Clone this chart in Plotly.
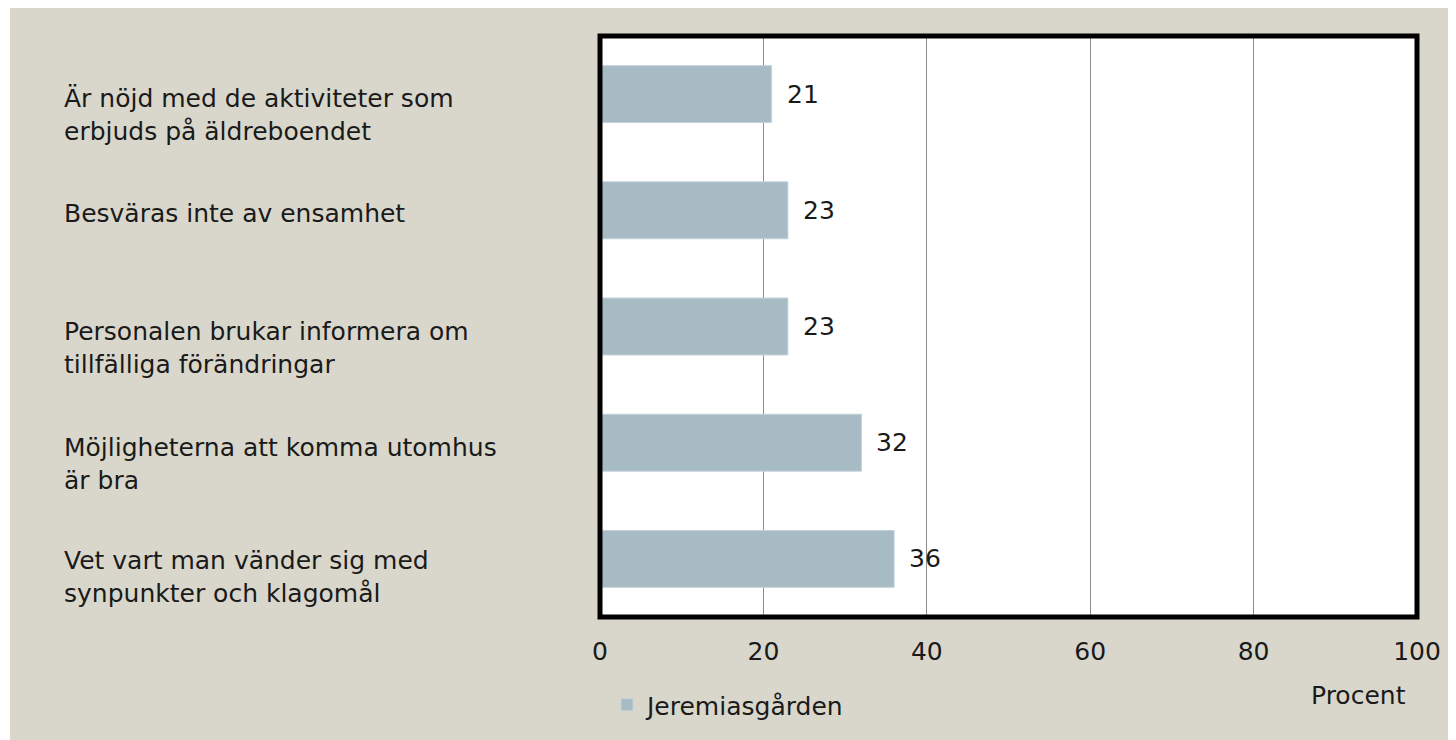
import plotly.graph_objects as go

categories = [
    "Är nöjd med de aktiviteter som<br>erbjuds på äldreboendet",
    "Besväras inte av ensamhet",
    "Personalen brukar informera om<br>tillfälliga förändringar",
    "Möjligheterna att komma utomhus<br>är bra",
    "Vet vart man vänder sig med<br>synpunkter och klagomål",
]
values = [21, 23, 23, 32, 36]
series_name = "Jeremiasgården"
x_ticks = [0, 20, 40, 60, 80, 100]
x_title = "Procent"

# figure is offset by the 8px page margin
W, H = 1456, 740
L, R, T, B = 592, 47, 28, 131
PW, PH = W - L - R, H - T - B

FONT = "DejaVu Sans"
FS = 25
TXT = "#1a1a1a"
BEIGE = "#D9D7CB"
BAR = "#A7BBC5"

fig = go.Figure()
fig.add_trace(go.Bar(
    y=categories, x=values, orientation="h", name=series_name,
    marker=dict(color=BAR, line=dict(color="#C4D2D9", width=1)),
    width=0.49, showlegend=True,
))

# value labels
for c, v in zip(categories, values):
    fig.add_annotation(x=v, y=c, text=str(v), showarrow=False, xanchor="left",
                       xshift=13, font=dict(family=FONT, size=FS, color=TXT))

# category labels (left aligned)
yshifts = [-21, -3, -21, -21, -18]
for c, ys in zip(categories, yshifts):
    fig.add_annotation(x=(54 - L) / PW, xref="paper", y=c, yref="y", text=c,
                       showarrow=False, xanchor="left", align="left", yshift=ys,
                       font=dict(family=FONT, size=FS, color=TXT))

fig.add_annotation(x=(1400 - L) / PW, xref="paper", y=(H - 687 - B) / PH, yref="paper",
                   text=x_title, showarrow=False, xanchor="right", yanchor="middle",
                   font=dict(family=FONT, size=FS, color=TXT))

shapes = [
    dict(type="rect", xref="paper", yref="paper", x0=-L / PW - 0.01, x1=(2 - L) / PW,
         y0=-B / PH - 0.01, y1=1 + T / PH + 0.01, fillcolor="white", line=dict(width=0), layer="below"),
    dict(type="rect", xref="paper", yref="paper", x0=0, x1=1, y0=0, y1=1,
         line=dict(color="black", width=5), layer="above"),
]
fig.update_layout(shapes=shapes)

fig.update_layout(
    width=W, height=H,
    margin=dict(l=L, r=R, t=T, b=B, pad=0),
    paper_bgcolor=BEIGE, plot_bgcolor="white",
    font=dict(family=FONT, size=FS, color=TXT),
    xaxis=dict(range=[0, 100], tickvals=x_ticks, ticktext=[str(t) for t in x_ticks],
               showgrid=True, gridcolor="#8C8C8C", gridwidth=1, zeroline=False,
               showline=False, ticks="", ticklen=0, ticklabelstandoff=17,
               tickfont=dict(family=FONT, size=FS, color=TXT), fixedrange=True),
    yaxis=dict(autorange="reversed", showticklabels=False, showgrid=False, zeroline=False,
               showline=False, ticks="", fixedrange=True),
    legend=dict(orientation="h", x=(599 - L) / PW, xanchor="left", y=(H - 697 - B) / PH,
                yanchor="middle", font=dict(family=FONT, size=FS, color=TXT),
                bgcolor="rgba(0,0,0,0)", itemwidth=30),
    showlegend=True,
)

fig.write_html("out.html")
